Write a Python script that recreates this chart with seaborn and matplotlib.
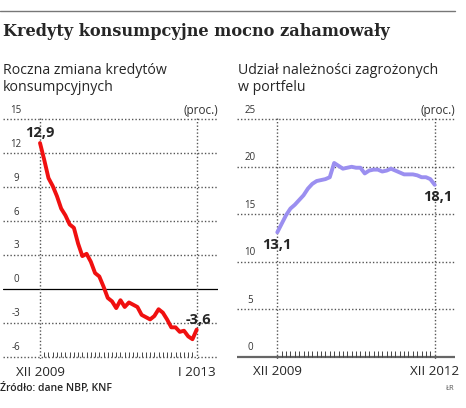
import matplotlib
matplotlib.use("Agg")
import matplotlib.pyplot as plt
import numpy as np
import seaborn as sns

sns.set_theme(style="white")
plt.rcParams["font.family"] = ["Open Sans", "DejaVu Sans"]

# monthly data, XII 2009 .. I 2013
credit_change = [12.9, 11.4, 9.8, 9.1, 8.2, 7.1, 6.5, 5.7, 5.4, 4.0,
                 2.9, 3.1, 2.4, 1.4, 1.1, 0.2, -0.8, -1.1, -1.7, -1.0,
                 -1.6, -1.2, -1.4, -1.6, -2.3, -2.5, -2.7, -2.4, -1.8, -2.1,
                 -2.7, -3.4, -3.4, -3.8, -3.7, -4.2, -4.45, -3.6]
# monthly data, XII 2009 .. XII 2012
bad_loans_share = [13.1, 14.0, 14.9, 15.6, 16.0, 16.5, 17.0, 17.7, 18.2, 18.5,
                   18.6, 18.7, 18.9, 20.4, 20.1, 19.8, 19.9, 20.0, 19.9, 19.9,
                   19.3, 19.6, 19.7, 19.7, 19.5, 19.6, 19.8, 19.6, 19.4, 19.2,
                   19.2, 19.2, 19.1, 18.9, 18.9, 18.7, 18.1]
left_yticks = [15, 12, 9, 6, 3, 0, -3, -6]
right_yticks = [25, 20, 15, 10, 5, 0]
left_xlabels = ["XII 2009", "I 2013"]
right_xlabels = ["XII 2009", "XII 2012"]
left_ends = ["12,9", "-3,6"]
right_ends = ["13,1", "18,1"]

W, H = 466, 408
fig = plt.figure(figsize=(W / 100, H / 100), dpi=100)


def px_axes(x0, x1, y0, y1):
    return fig.add_axes([x0 / W, 1 - y1 / H, (x1 - x0) / W, (y1 - y0) / H])


# header
fig.add_artist(plt.Line2D([0, 455 / W], [1 - 11 / H] * 2, color="#777777", lw=1))
fig.text(3 / W, 1 - 32 / H, "Kredyty konsumpcyjne mocno zahamowały",
         family="DejaVu Serif", weight="bold", fontsize=11.6, va="center")
fig.text(3 / W, 1 - 79 / H, "Roczna zmiana kredytów\nkonsumpcyjnych",
         fontsize=10.2, va="center", linespacing=1.15)
fig.text(238 / W, 1 - 79 / H, "Udział należności zagrożonych\nw portfelu",
         fontsize=10.2, va="center", linespacing=1.15)


def panel(ax, values, yticks, ymin, ymax, xlabels, color, base_style):
    n = len(values)
    months = np.arange(n)
    ax.set_axis_off()
    for t in yticks:
        if t == 0 and base_style == "black":
            ax.axhline(t, color="black", lw=0.9)
        elif t == ymin and base_style == "gray":
            ax.axhline(t, color="#666666", lw=1.6)
        else:
            ax.axhline(t, color="#555555", lw=1.0, ls=(0, (1, 1.5)))
        ax.annotate(str(t), (0.06, t), xycoords=("axes fraction", "data"),
                    xytext=(0, 6.5), textcoords="offset points", ha="center",
                    va="center", fontsize=7, color="#333333")
    for m in [0, n - 1]:
        ax.axvline(m, color="#555555", lw=1.0, ls=(0, (1, 1.5)))
    ax.vlines(months[1:-1], ymin, ymin + (ymax - ymin) * 0.022,
              color="#444444", lw=0.7)
    sns.lineplot(x=months, y=values, ax=ax, color=color, lw=2.8)
    ax.text(1.0, 1.0, "(proc.)", transform=ax.transAxes, ha="right",
            va="bottom", fontsize=8.5, color="#333333")
    for m, lab in zip([0, n - 1], xlabels):
        ax.annotate(lab, (m, 0), xycoords=("data", "axes fraction"),
                    xytext=(0, -9.5), textcoords="offset points", ha="center",
                    va="center", fontsize=9.6)
    return months


ax1 = px_axes(3, 218, 117, 359)
ax1.set_xlim(-8.74, 42.03)
ax1.set_ylim(-6.2, 15.2)
m1 = panel(ax1, credit_change, left_yticks, -6, 15, left_xlabels,
           "#f01010", "black")
ax1.annotate(left_ends[0], (m1[0], credit_change[0]), xytext=(0, 7),
             textcoords="offset points", ha="center", va="center",
             fontsize=10.5, weight="bold")
ax1.annotate(left_ends[1], (m1[-1], credit_change[-1]), xytext=(1, 7),
             textcoords="offset points", ha="center", va="center",
             fontsize=10.5, weight="bold")

ax2 = px_axes(237, 455, 117.4, 358.6)
ax2.set_xlim(-9.22, 40.64)
ax2.set_ylim(-0.2, 25.2)
m2 = panel(ax2, bad_loans_share, right_yticks, 0, 25, right_xlabels,
           "#9b8ff0", "gray")
ax2.annotate(right_ends[0], (m2[0], bad_loans_share[0]), xytext=(0, -9),
             textcoords="offset points", ha="center", va="center",
             fontsize=10.5, weight="bold")
ax2.annotate(right_ends[1], (m2[-1], bad_loans_share[-1]), xytext=(2, -9),
             textcoords="offset points", ha="center", va="center",
             fontsize=10.5, weight="bold")

# footer
fig.text(0 / W, 1 - 388 / H, "Źródło: dane NBP, KNF", fontsize=7.5,
         weight="semibold", va="center")
fig.text(455 / W, 1 - 388 / H, "ŁR", fontsize=5.5, color="#555555",
         ha="right", va="center")

fig.savefig("out.png", dpi=100)
